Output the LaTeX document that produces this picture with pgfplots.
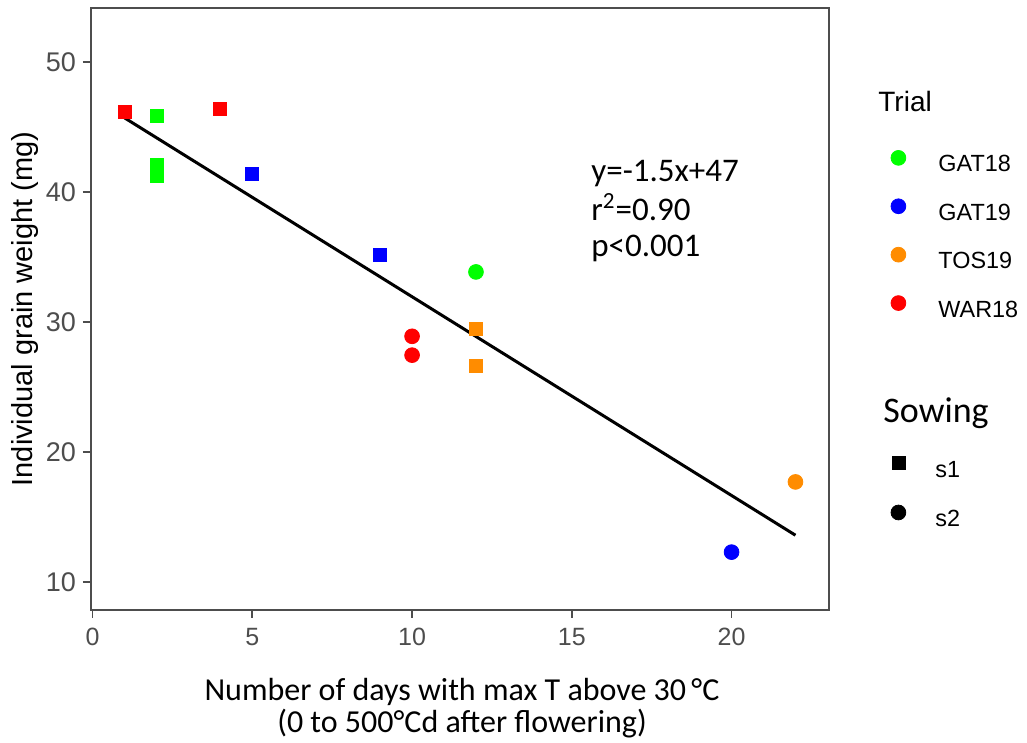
\documentclass[border=0pt]{standalone}
\usepackage{pgfplots}
\pgfplotsset{compat=1.18}
\usepackage{fontspec}
\setmainfont{Liberation Sans}
\newfontfamily\calibri{Carlito}
\definecolor{gat18}{HTML}{00FF00}
\definecolor{gat19}{HTML}{0000FF}
\definecolor{tos19}{HTML}{FF8C00}
\definecolor{war18}{HTML}{FF0000}
\definecolor{axisgray}{HTML}{4D4D4D}
\definecolor{framegray}{HTML}{4D4D4D}

\begin{document}
\begin{tikzpicture}
\useasboundingbox (-45.5pt,-66.5pt) rectangle (468pt,305pt);
\begin{axis}[
  at={(0pt,0pt)}, anchor=south west,
  scale only axis, width=369pt, height=301pt,
  xmin=-0.05, xmax=23.05, ymin=7.85, ymax=54.15,
  xtick={0,5,10,15,20}, ytick={10,20,30,40,50},
  tick align=outside, xtick pos=left, ytick pos=left,
  major tick length=4pt,
  axis line style={draw=framegray, line width=0.9pt},
  tick style={draw=framegray, line width=0.9pt},
  tick label style={color=axisgray},
  xticklabel style={font=\fontsize{12.5}{14}\selectfont, yshift=-1.5pt},
  yticklabel style={font=\fontsize{13.5}{16}\selectfont},
  /pgf/number format/assume math mode=true,
  ylabel={Individual grain weight (mg)},
  ylabel style={font=\fontsize{14.5}{17}\selectfont, at={(axis description cs:-0.0786,0.5)}, anchor=base},
  xlabel={Number of days with max T above 30\,°C\\(0 to 500°Cd after flowering)},
  xlabel style={align=center, font=\calibri\fontsize{16}{16}\selectfont, at={(axis description cs:0.5027,-0.113)}, anchor=north, inner sep=0pt},
  legend image code/.code={\draw[#1,/tikz/only marks] plot coordinates {(0pt,4pt)};},
  legend cell align=left,
  legend style={draw=none, fill=none, inner sep=0pt, at={(1.0835,0.764)}, anchor=north west,
    row sep=11pt, column sep=16.3pt, font=\fontsize{11.7}{14}\selectfont,
    nodes={inner sep=0pt, text height=8.5pt, text depth=2.5pt}},
]
% GAT18
\addplot[only marks, mark=square*, mark size=3.25pt, gat18, forget plot] coordinates {(2,45.85) (2,42.1) (2,41.25)};
\addplot[only marks, mark=*, mark size=3.7pt, gat18, forget plot] coordinates {(12,33.85)};
% GAT19
\addplot[only marks, mark=square*, mark size=3.25pt, gat19, forget plot] coordinates {(5,41.4) (9,35.15)};
\addplot[only marks, mark=*, mark size=3.7pt, gat19, forget plot] coordinates {(20,12.3)};
% TOS19
\addplot[only marks, mark=square*, mark size=3.25pt, tos19, forget plot] coordinates {(12,29.45) (12,26.6)};
\addplot[only marks, mark=*, mark size=3.7pt, tos19, forget plot] coordinates {(22,17.7)};
% WAR18
\addplot[only marks, mark=square*, mark size=3.25pt, war18, forget plot] coordinates {(1,46.15) (4,46.4)};
\addplot[only marks, mark=*, mark size=3.7pt, war18, forget plot] coordinates {(10,28.9) (10,27.45)};
% fitted line
\addplot[black, line width=1.5pt, forget plot] coordinates {(1,45.7) (22,13.6)};

\addlegendimage{mark=*, mark size=3.7pt, gat18}
\addlegendimage{mark=*, mark size=3.7pt, gat19}
\addlegendimage{mark=*, mark size=3.7pt, tos19}
\addlegendimage{mark=*, mark size=3.7pt, war18}
\legend{GAT18, GAT19, TOS19, WAR18}

\node[anchor=base west, inner sep=0pt, font=\calibri\fontsize{16.5}{18}\selectfont] at (axis cs:15.6,40.77) {y=-1.5x+47};
\node[anchor=base west, inner sep=0pt, font=\calibri\fontsize{16.5}{18}\selectfont] at (axis cs:15.6,37.8) {r\textsuperscript{2}=0.90};
\node[anchor=base west, inner sep=0pt, font=\calibri\fontsize{16.5}{18}\selectfont] at (axis cs:15.6,35.0) {p<0.001};
\end{axis}

\begin{axis}[
  at={(0pt,0pt)}, anchor=south west,
  scale only axis, width=369pt, height=301pt,
  xmin=0, xmax=1, ymin=0, ymax=1, hide axis,
  legend image code/.code={\draw[#1,/tikz/only marks] plot coordinates {(0pt,4pt)};},
  legend cell align=left,
  legend style={draw=none, fill=none, inner sep=0pt, at={(1.0835,0.2555)}, anchor=north west,
    row sep=11.5pt, column sep=14.8pt, font=\fontsize{11.7}{14}\selectfont,
    nodes={inner sep=0pt, text height=8.5pt, text depth=2.5pt}},
]
\addlegendimage{mark=square*, mark size=3.25pt, black}
\addlegendimage{mark=*, mark size=3.7pt, black}
\legend{s1, s2}
\end{axis}

\node[anchor=base west, inner sep=0pt, font=\fontsize{14}{16}\selectfont] at (393.5pt,249pt) {Trial};
\node[anchor=base west, inner sep=0pt, font=\calibri\fontsize{18}{20}\selectfont] at (396pt,93.5pt) {Sowing};
\end{tikzpicture}
\end{document}
